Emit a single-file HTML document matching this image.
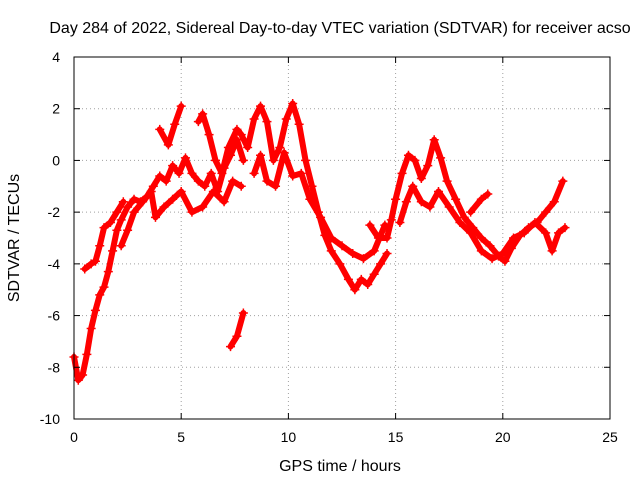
<!DOCTYPE html>
<html><head><meta charset="utf-8"><style>
body{margin:0;background:#fff;}
svg{display:block;font-family:"Liberation Sans",sans-serif;}
</style></head><body>
<svg id="chart" width="640" height="480" viewBox="0 0 640 480">
<text x="340" y="33" font-size="16" text-anchor="middle">Day 284 of 2022, Sidereal Day-to-day VTEC variation (SDTVAR) for receiver acso</text>
<text x="340" y="471" font-size="16" text-anchor="middle">GPS time / hours</text>
<text transform="translate(19,238) rotate(-90)" font-size="16" text-anchor="middle">SDTVAR / TECUs</text>
<g id="grid"></g><g id="marks"></g><g id="axes"></g>
</svg>
<script>
const xTicks=[0,5,10,15,20,25];
const yTicks=[4,2,0,-2,-4,-6,-8,-10];
const trackA=[[0,-7.6],[0.2,-8.5],[0.4,-8.3],[0.6,-7.5],[0.8,-6.5],[1.0,-5.8],[1.2,-5.2],[1.4,-4.9],[1.6,-4.3],[1.8,-3.5],[2.0,-2.7],[2.2,-2.3],[2.5,-1.8],[2.8,-1.5],[3.1,-1.6],[3.4,-1.4],[3.7,-1.0],[4.0,-0.6],[4.3,-0.8],[4.6,-0.2],[4.9,-0.5],[5.2,0.1],[5.5,-0.5],[5.8,-0.8],[6.1,-1.0],[6.4,-0.5],[6.7,-1.2],[7.0,-0.3],[7.3,0.2],[7.6,0.8],[7.9,0.0]];
const trackB=[[0.5,-4.2],[0.8,-4.0],[1.0,-3.9],[1.2,-3.3],[1.4,-2.6],[1.7,-2.4],[2.0,-2.0],[2.3,-1.6]];
const trackC=[[2.2,-3.3],[2.5,-2.7],[2.8,-2.0],[3.2,-1.6],[3.6,-1.2],[3.8,-2.2],[4.2,-1.8],[4.6,-1.5],[5.0,-1.2],[5.5,-2.0],[6.0,-1.8],[6.5,-1.2],[7.0,-1.6],[7.4,-0.8],[7.8,-1.0]];
const trackD=[[4.0,1.2],[4.4,0.6],[4.7,1.4],[5.0,2.1]];
const trackE=[[5.8,1.5],[6.0,1.8],[6.3,1.0],[6.6,0.0],[6.9,-0.5],[7.2,0.5],[7.6,1.2],[7.8,1.0],[8.1,0.5],[8.4,1.6],[8.7,2.1],[9.0,1.5],[9.3,0.0],[9.6,0.5],[9.9,1.6],[10.2,2.2],[10.5,1.4],[10.8,0.0],[11.1,-1.0],[11.4,-2.0],[11.7,-2.9],[12.0,-3.5],[12.4,-4.0],[12.8,-4.6],[13.1,-5.0],[13.4,-4.6],[13.7,-4.8],[14.0,-4.4],[14.3,-4.0],[14.6,-3.6]];
const trackF=[[8.4,-0.5],[8.7,0.2],[9.0,-0.8],[9.4,-1.0],[9.8,0.3],[10.2,-0.6],[10.6,-0.5],[11.0,-1.5],[11.5,-2.2],[12.0,-3.0],[12.5,-3.3],[13.0,-3.6],[13.5,-3.8],[14.0,-3.5],[14.5,-2.5]];
const trackG=[[13.8,-2.5],[14.2,-3.0],[14.6,-3.0],[14.8,-2.3],[15.0,-1.5],[15.3,-0.5],[15.6,0.2],[15.9,0.0],[16.2,-0.7],[16.5,-0.2],[16.8,0.8],[17.1,0.1],[17.4,-0.8],[17.8,-1.5],[18.2,-2.2],[18.6,-2.6],[19.0,-3.0],[19.4,-3.3],[19.8,-3.7],[20.1,-3.9],[20.4,-3.4],[20.8,-2.9],[21.2,-2.6],[21.6,-2.4],[22.0,-2.0],[22.4,-1.6],[22.8,-0.8]];
const trackH=[[15.2,-2.4],[15.5,-1.6],[15.8,-1.0],[16.2,-1.6],[16.6,-1.8],[17.0,-1.2],[17.5,-1.8],[18.0,-2.4],[18.5,-2.8],[19.0,-3.5],[19.5,-3.8],[20.0,-3.6],[20.5,-3.0],[21.0,-2.8],[21.5,-2.4],[22.0,-2.8],[22.3,-3.5],[22.6,-2.8],[22.9,-2.6]];
const trackI=[[18.5,-2.0],[19.0,-1.5],[19.3,-1.3]];
const trackJ=[[7.3,-7.2],[7.6,-6.8],[7.9,-5.9]];
const tracks=[trackA,trackB,trackC,trackD,trackE,trackF,trackG,trackH,trackI,trackJ];
const X0=74,X1=610,Y0=419,Y1=57;
const xs=v=>X0+(v-0)/25*(X1-X0);
const ys=v=>Y0-(v+10)/14*(Y0-Y1);
const NS="http://www.w3.org/2000/svg";
function mk(t,a,p){const e=document.createElementNS(NS,t);for(const k in a)e.setAttribute(k,a[k]);p.appendChild(e);return e;}
const grid=document.getElementById('grid'),axes=document.getElementById('axes'),marks=document.getElementById('marks');
xTicks.forEach(t=>{const x=xs(t);
 if(t>0&&t<25){const g=mk('line',{x1:x,x2:x,y1:Y1,y2:Y0,stroke:'#a0a0a0','stroke-dasharray':'1,3'},grid);}
 mk('line',{x1:x,x2:x,y1:Y0,y2:Y0-6,stroke:'#000'},axes);mk('line',{x1:x,x2:x,y1:Y1,y2:Y1+6,stroke:'#000'},axes);
 const l=mk('text',{x:x,y:Y0+23,'font-size':14,'text-anchor':'middle'},axes);l.textContent=t;
 });
yTicks.forEach(t=>{const y=ys(t);
 if(t>-10&&t<4){const g=mk('line',{x1:X0,x2:X1,y1:y,y2:y,stroke:'#a0a0a0','stroke-dasharray':'1,3'},grid);}
 mk('line',{x1:X0,x2:X0+6,y1:y,y2:y,stroke:'#000'},axes);mk('line',{x1:X1,x2:X1-6,y1:y,y2:y,stroke:'#000'},axes);
 const l=mk('text',{x:X0-14,y:y+5,'font-size':14,'text-anchor':'end'},axes);l.textContent=t;
 });
const fr=mk('rect',{x:X0,y:Y1,width:X1-X0,height:Y0-Y1,fill:'none',stroke:'#000'},axes);

tracks.forEach(tr=>{
 const pl=mk('polyline',{points:tr.map(p=>xs(p[0])+','+ys(p[1])).join(' '),fill:'none',stroke:'#f00','stroke-width':6,'stroke-linejoin':'round','stroke-linecap':'round'},marks);
 
 tr.forEach(p=>{const x=xs(p[0]),y=ys(p[1]);
  const m=mk('path',{d:`M${x-4.5},${y}H${x+4.5}M${x},${y-4.5}V${y+4.5}`,stroke:'#f00','stroke-width':1.5},marks);
  });
});
</script>
</body></html>
